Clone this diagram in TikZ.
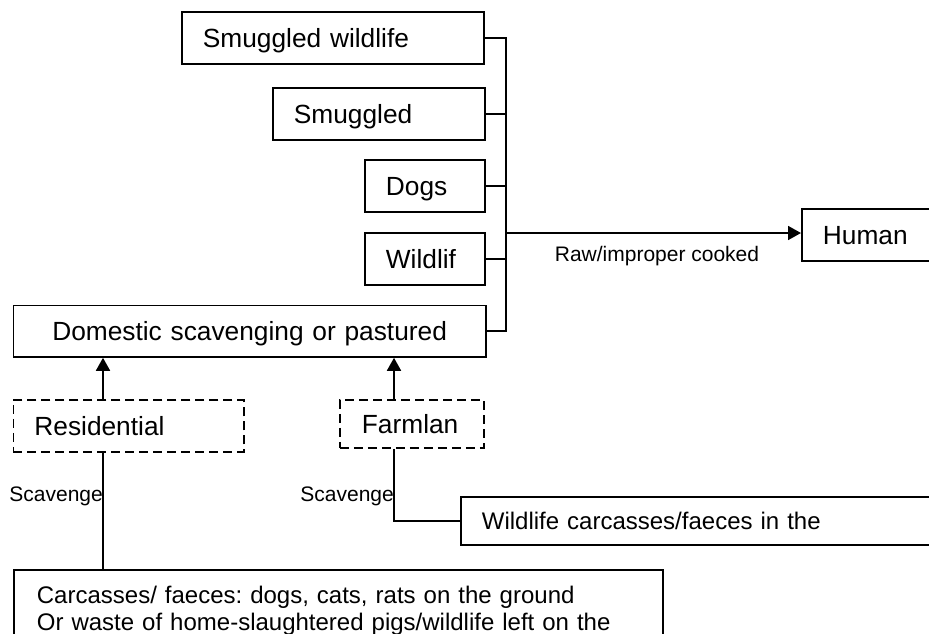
\documentclass[tikz,border=0pt]{standalone}
\usepackage{fontspec}
\setmainfont{Liberation Sans}
\usetikzlibrary{arrows.meta}
\frenchspacing
\begin{document}
\begin{tikzpicture}[x=1pt,y=-1pt,
  ln/.style={line width=1.8pt},
  arr/.style={-{Triangle[length=13pt,width=14pt]}},
  box/.style={draw, line width=1.8pt, anchor=north west, inner xsep=21pt, inner ysep=0pt,
    align=left, minimum height=52pt, text height=18.8pt, text depth=0pt,
    font=\fontsize{26.3}{30}\selectfont},
  dbox/.style={box, dash pattern=on 9pt off 5pt},
  cbox/.style={draw, line width=1.8pt, anchor=north west, inner xsep=23pt, inner ysep=16.5pt,
    align=left, font=\fontsize{24}{26.5}\selectfont},
  lbl/.style={inner sep=0pt, font=\fontsize{21}{24}\selectfont, text height=15pt, text depth=0pt}]
\useasboundingbox (0,0) rectangle (929,633);
\clip (0,0) rectangle (929,633);
% source boxes
\node[box, text width=260pt] (sw) at (181,11) {Smuggled wildlife};
\node[box, text width=170pt] (sm) at (272,87) {Smuggled};
\node[box, text width=78pt] (dogs) at (364,159) {Dogs};
\node[box, text width=78pt] (wl) at (364,232) {Wildlif};
\node[box, text width=430.5pt, align=center, minimum height=51.5pt] (dom) at (12.5,304.5) {Domestic scavenging or pastured};
\node[box, text width=120pt] (hum) at (801,208) {Human};
% habitats
\node[dbox, text width=188.5pt] (res) at (12.5,399) {Residential};
\node[dbox, text width=100pt, inner xsep=22pt, minimum height=48pt] (farm) at (339,399) {Farmlan};
% bottom sources
\node[box, text width=460pt, minimum height=48pt, font=\fontsize{24}{27}\selectfont, text height=17.2pt] (wild) at (460,496) {Wildlife carcasses/faeces in the};
\node[cbox, text width=603pt] (carc) at (13,569) {Carcasses/ faeces: dogs, cats, rats on the ground\\Or waste of home-slaughtered pigs/wildlife left on the};
% bus and connectors
\coordinate (bus) at (506,233);
\foreach \n in {sw,sm,dogs,wl,dom} \draw[ln] (\n.east) -| (bus);
\draw[ln,arr] (bus) -- (bus -| hum.west);
\node[lbl] (raw) at (657,254) {Raw/improper cooked};
\coordinate (rx) at (103,0);
\coordinate (fx) at (394,0);
\draw[ln,arr] (res.north -| rx) -- (dom.south -| rx);
\draw[ln,arr] (farm.north -| fx) -- (dom.south -| fx);
\draw[ln] (res.south -| rx) -- (carc.north -| rx);
\draw[ln] (farm.south -| fx) |- (wild.west);
\node[lbl, anchor=east] (sc1) at (103,494) {Scavenge};
\node[lbl, anchor=east] (sc2) at (394,494) {Scavenge};
\end{tikzpicture}
\end{document}
